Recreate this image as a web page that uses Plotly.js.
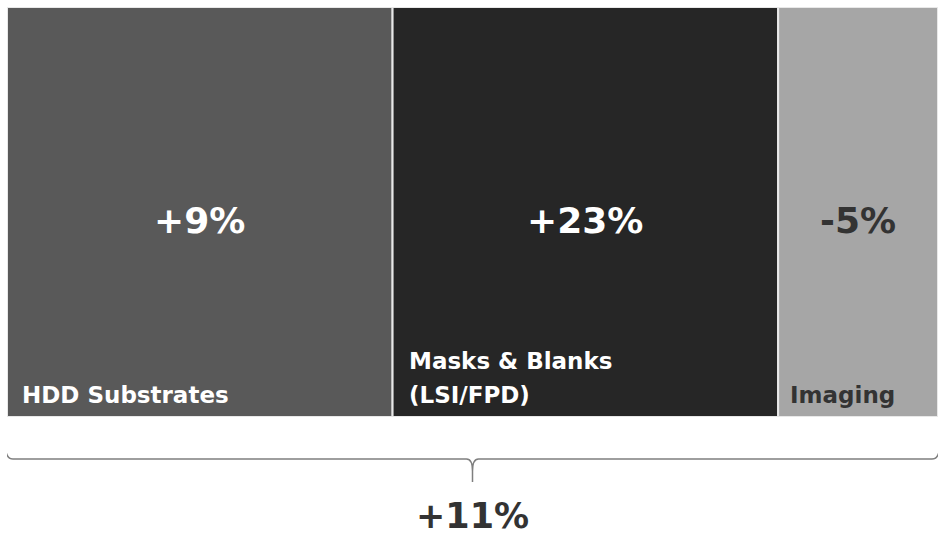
<!DOCTYPE html>
<html>
<head>
<meta charset="utf-8">
<script src="https://cdn.plot.ly/plotly-3.0.1.min.js"></script>
<style>html,body{margin:0;padding:0;background:#fff;}#chart{width:938px;height:538px;}</style>
</head>
<body>
<div id="chart"></div>
<script>
// ---- data ----
const categories = ['HDD Substrates', 'Masks & Blanks (LSI/FPD)', 'Imaging'];
const labelLines = [['HDD Substrates'], ['Masks & Blanks', '(LSI/FPD)'], ['Imaging']];
const shares = [41, 41, 17];
const growthLabels = ['+9%', '+23%', '-5%'];
const totalGrowthLabel = '+11%';

// ---- styles ----
const boxColors = ['#595959', '#262626', '#a6a6a6'];
const textColors = ['#ffffff', '#ffffff', '#333333'];
const labelXShift = [13, 14, 10];
const FONT = 'DejaVu Sans, Verdana, sans-serif';
const W = 938, H = 538, T = 7, B = 0, L = 7, R = 0;

const total = shares.reduce((a, b) => a + b, 0);
const lefts = [];
let acc = 0;
shares.forEach(s => { lefts.push(acc); acc += s; });
const centers = shares.map((s, i) => lefts[i] + s / 2);

const pyToPaper = p => (H - B - p) / (H - T - B);
const pxToData = px => px * total / (W - L - R);

const trace = {
  type: 'bar',
  x: centers,
  y: shares.map(() => 1),
  width: shares,
  base: 0,
  marker: { color: boxColors, line: { color: '#e8e8e8', width: 2 } },
  hoverinfo: 'skip',
  text: categories,
  textposition: 'none'
};

const annotations = [];
growthLabels.forEach((g, i) => {
  annotations.push({
    x: centers[i], y: 0.48, xref: 'x', yref: 'y',
    text: '<b>' + g + '</b>', showarrow: false,
    xanchor: 'center', yanchor: 'middle',
    font: { family: FONT, size: 36, color: textColors[i] }
  });
  const lines = labelLines[i];
  lines.forEach((ln, j) => {
    annotations.push({
      x: lefts[i], y: 0, xref: 'x', yref: 'y',
      text: '<b>' + ln + '</b>', showarrow: false,
      xanchor: 'left', yanchor: 'bottom',
      xshift: labelXShift[i], yshift: 7 + (lines.length - 1 - j) * 34,
      font: { family: FONT, size: 23, color: textColors[i] }
    });
  });
});
annotations.push({
  x: total / 2, y: 0, xref: 'x', yref: 'paper',
  text: '<b>' + totalGrowthLabel + '</b>', showarrow: false,
  xanchor: 'center', yanchor: 'bottom', yshift: 1, borderpad: 0,
  font: { family: FONT, size: 35, color: '#333333' }
});

// brace under the whole width
const x0 = pxToData(-2), x1 = total + pxToData(2), xc = total / 2;
const d = pxToData(8), dc = pxToData(6);
const yTop = pyToPaper(433), yMid = pyToPaper(459), yK = pyToPaper(471), yTip = pyToPaper(482);
const bracePath =
  `M ${x0},${yTop} C ${x0},${pyToPaper(452)} ${x0 + pxToData(1)},${yMid} ${x0 + d},${yMid} ` +
  `L ${xc - dc},${yMid} C ${xc - pxToData(1)},${yMid} ${xc},${pyToPaper(464)} ${xc},${yK} ` +
  `L ${xc},${yTip} M ${xc},${yK} C ${xc},${pyToPaper(464)} ${xc + pxToData(1)},${yMid} ${xc + dc},${yMid} ` +
  `L ${x1 - d},${yMid} C ${x1 - pxToData(1)},${yMid} ${x1},${pyToPaper(452)} ${x1},${yTop}`;

const layout = {
  width: W, height: H,
  margin: { l: L, r: R, t: T, b: B, pad: 0 },
  paper_bgcolor: '#ffffff', plot_bgcolor: '#ffffff',
  showlegend: false,
  xaxis: { range: [0, total], showgrid: false, zeroline: false, showticklabels: false, showline: false, fixedrange: true },
  yaxis: { range: [0, 1], domain: [pyToPaper(417), 1], showgrid: false, zeroline: false, showticklabels: false, showline: false, fixedrange: true },
  annotations: annotations,
  shapes: [{
    type: 'path', xref: 'x', yref: 'paper', path: bracePath,
    line: { color: '#7f7f7f', width: 1.5 }, layer: 'above'
  }]
};

Plotly.newPlot('chart', [trace], layout, { displayModeBar: false, staticPlot: true });
</script>
</body>
</html>
